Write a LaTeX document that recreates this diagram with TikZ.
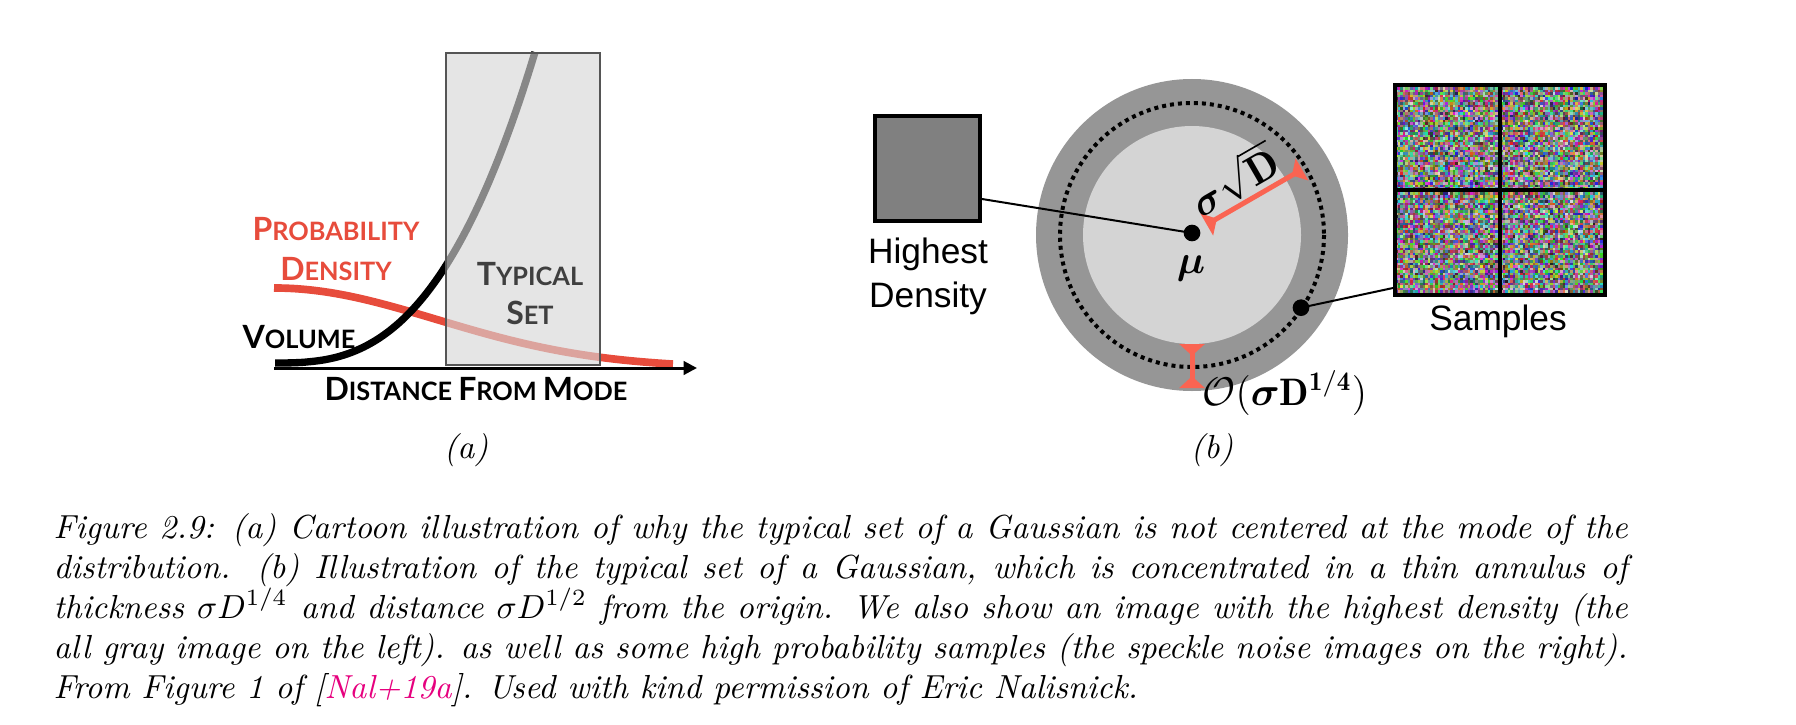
\documentclass[tikz,border=0pt]{standalone}
\usepackage{fontspec}
\usepackage{amsmath,bm}
\usetikzlibrary{arrows.meta,calc}
\newfontfamily\gill{Lato}
\newfontfamily\helv{Liberation Sans}
\definecolor{pdred}{RGB}{231,76,60}
\definecolor{tsgray}{RGB}{63,63,63}
\definecolor{boxfill}{RGB}{214,214,214}
\definecolor{boxline}{RGB}{85,85,85}
\definecolor{ringdark}{RGB}{150,150,150}
\definecolor{ringlight}{RGB}{212,212,212}
\definecolor{hdgray}{RGB}{128,128,128}
\definecolor{radred}{RGB}{250,100,82}
\definecolor{citemag}{RGB}{230,0,126}
\newcommand\Bc[1]{{\fontsize{9.6}{11}\selectfont #1}}
\begin{document}
\begin{tikzpicture}[x=0.3pt,y=-0.3pt,
  sclab/.style={font=\gill\bfseries\fontsize{7.6}{9}\selectfont, inner sep=0pt, anchor=base},
  hvlab/.style={font=\helv\fontsize{10.6}{13}\selectfont, inner sep=0pt, anchor=base},
  capline/.style={font=\fontsize{10}{12}\selectfont\itshape, inner sep=0pt, anchor=base west},
  sublab/.style={font=\fontsize{10}{12}\selectfont\itshape, inner sep=0pt, anchor=base},
  mlab/.style={inner sep=0pt},
  dotnode/.style={circle, fill=black, inner sep=0pt, minimum size=5pt},
  conn/.style={draw=black, line width=0.6pt},
  redbar/.style={draw=radred, line width=1.5pt,
     arrows={Triangle[reversed,width=7.5pt,length=3.5pt]-Triangle[reversed,width=7.5pt,length=3.5pt]}},
  imgbox/.style={draw=black, line width=1.2pt, inner sep=0pt},
]
\useasboundingbox (0,0) rectangle (1796,724);

% ---------------- panel (a) ----------------
\coordinate (ax0) at (274,368);
\coordinate (ax1) at (697,368);
\draw[pdred, line width=2.3pt] plot[domain=274:673, samples=80] (\x, {368-80*exp(-((\x-274)/230)^2)});
\draw[black, line width=2.2pt] plot[domain=275:535, samples=80] (\x, {363-311*pow((\x-274)/261,2.78)});
\draw[black, line width=0.9pt, -{Triangle[length=4pt,width=4pt]}] (ax0) -- (ax1);
\node[draw=boxline, line width=0.6pt, fill=boxfill, fill opacity=0.635,
      minimum width=46.2pt, minimum height=93.6pt, inner sep=0pt] (ts) at (523,209) {};
\node[sclab, pdred] (pd1) at (336,240) {\Bc{P}ROBABILITY};
\node[sclab, pdred] (pd2) at (336,280) {\Bc{D}ENSITY};
\node[sclab, tsgray] (ts1) at (530,285) {\Bc{T}YPICAL};
\node[sclab, tsgray] (ts2) at (530,324) {\Bc{S}ET};
\node[sclab, black] (vol) at (299,348) {\Bc{V}OLUME};
\node[sclab, black] (dfm) at (476,400) {\Bc{D}ISTANCE \Bc{F}ROM \Bc{M}ODE};
\node[sublab] (suba) at (466,458) {(a)};

% ---------------- panel (b) ----------------
\coordinate (c) at (1192,235);
\fill[ringdark] (c) circle[radius=156];
\fill[ringlight] (c) circle[radius=109];
\draw[black, line width=1.2pt, dash pattern=on 1.2pt off 1.2pt] (c) circle[radius=132];

\node[imgbox, fill=hdgray, minimum size=31.5pt] (hd) at (927.5,168.5) {};
\node[hvlab] (hdt1) at (928,263) {Highest};
\node[hvlab] (hdt2) at (928,307) {Density};

\node[dotnode] (mu) at (1192,233) {};
\node[dotnode] (rd) at ($(c)+(33.7:131)$) {};
\node[mlab, font=\fontsize{13}{15}\selectfont] (mulab) at (1191,268) {$\bm{\mu}$};

\draw[conn] ($(hd.south east)+(0,-24)$) -- (mu.center);

\draw[redbar] ($(mu)+(-30:17)$) -- ($(mu)+(-30:127)$);
\draw[redbar] ($(c)+(0,109)$) -- ($(c)+(0,153)$);
\node[mlab, rotate=30, font=\fontsize{12.5}{14}\selectfont] (sig) at (1234,180) {$\bm{\sigma}\sqrt{\mathbf{D}}$};
\node[mlab, anchor=base west, font=\fontsize{11.5}{14}\selectfont] (olab) at (1202,405)
  {$\mathcal{O}(\bm{\sigma}\mathbf{D}^{\mathbf{1/4}})$};

% samples with speckle noise
\pgfmathsetseed{7}
\foreach \i in {0,...,83}{
  \foreach \j in {0,...,83}{
    \pgfmathsetmacro\cr{0.1+0.8*rnd}\pgfmathsetmacro\cg{0.1+0.8*rnd}\pgfmathsetmacro\cb{0.1+0.8*rnd}
    \definecolor{nz}{rgb}{\cr,\cg,\cb}
    \fill[nz] ({1395+2.5*\i},{85+2.5*\j}) rectangle +(2.5,2.5);
  }
}
\node[imgbox, minimum size=63pt] (smp) at (1500,190) {};
\draw[black, line width=1.2pt] (smp.north) -- (smp.south);
\draw[black, line width=1.2pt] (smp.west) -- (smp.east);
\node[hvlab] (smpt) at (1498,330) {Samples};
\draw[conn] (rd.center) -- ($(smp.south west)+(0,-9)$);
\node[sublab] (subb) at (1212,458) {(b)};

% ---------------- caption ----------------
\node[capline] (cap1) at (53,538) {\makebox[472.2pt][s]{Figure 2.9: (a) Cartoon illustration of why the typical set of a Gaussian is not centered at the mode of the}};
\node[capline] (cap2) at (53,578) {\makebox[472.2pt][s]{distribution. (b) Illustration of the typical set of a Gaussian, which is concentrated in a thin annulus of}};
\node[capline] (cap3) at (53,618) {\makebox[472.2pt][s]{thickness $\sigma D^{1/4}$ and distance $\sigma D^{1/2}$ from the origin. We also show an image with the highest density (the}};
\node[capline] (cap4) at (53,658) {\makebox[472.2pt][s]{all gray image on the left). as well as some high probability samples (the speckle noise images on the right).}};
\node[capline] (cap5) at (53,698) {From Figure 1 of [\textcolor{citemag}{Nal+19a}]. Used with kind permission of Eric Nalisnick.};
\end{tikzpicture}
\end{document}
